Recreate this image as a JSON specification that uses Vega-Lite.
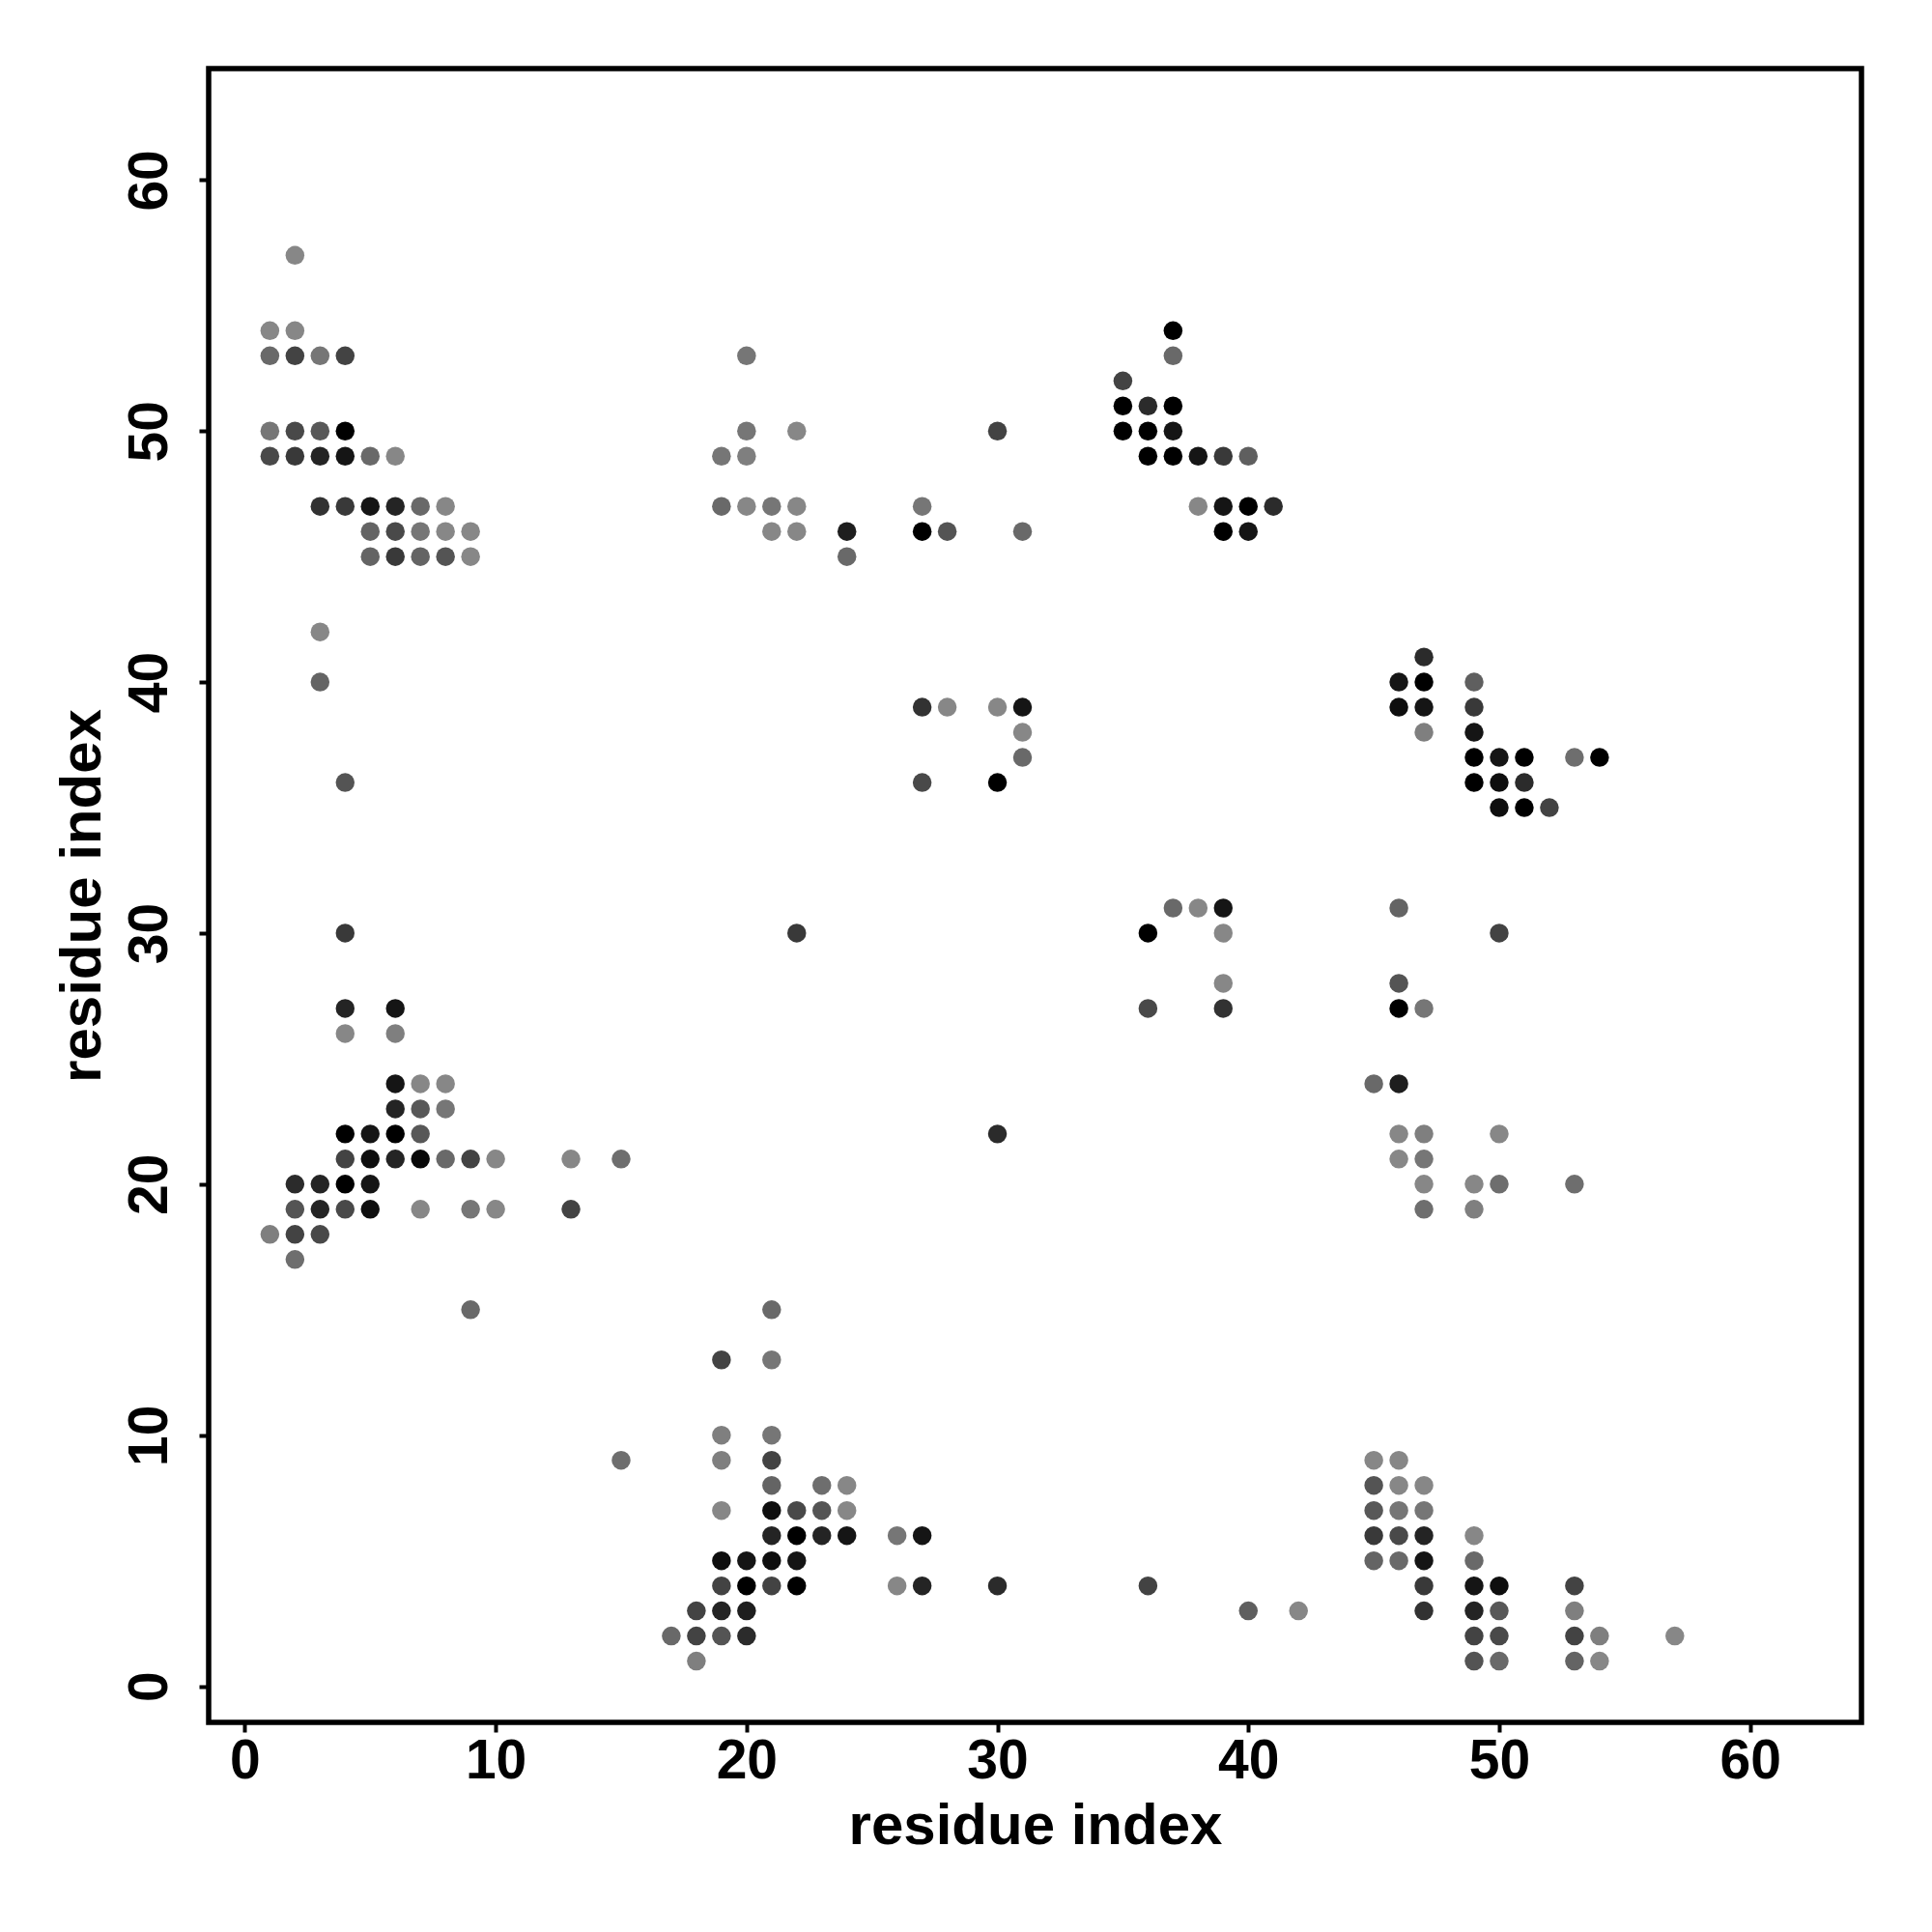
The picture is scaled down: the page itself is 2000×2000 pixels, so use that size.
{
  "$schema": "https://vega.github.io/schema/vega-lite/v6.json",
  "autosize": "none",
  "width": 1711,
  "height": 1712,
  "padding": {"left": 216, "top": 71, "right": 73, "bottom": 217},
  "background": "white",
  "view": {"stroke": "black", "strokeWidth": 5.5, "fill": "white"},
  "config": {
    "font": "Liberation Sans",
    "axis": {
      "domain": false, "grid": false,
      "tickColor": "black", "tickWidth": 4, "tickSize": 10,
      "labelFont": "Liberation Sans", "labelFontWeight": "bold", "labelFontSize": 57, "labelColor": "black",
      "titleFont": "Liberation Sans", "titleFontWeight": "bold", "titleFontSize": 60, "titleColor": "black",
      "labelOverlap": false, "labelFlush": false
    }
  },
  "data": {"values": [
    {"i":2,"j":57,"s":0.03},{"i":1,"j":54,"s":0.03},{"i":2,"j":54,"s":0.03},
    {"i":1,"j":53,"s":0.24},{"i":2,"j":53,"s":0.51},{"i":3,"j":53,"s":0.15},{"i":4,"j":53,"s":0.51},
    {"i":1,"j":50,"s":0.15},{"i":2,"j":50,"s":0.47},{"i":3,"j":50,"s":0.36},{"i":4,"j":50,"s":1},
    {"i":1,"j":49,"s":0.47},{"i":2,"j":49,"s":0.59},{"i":3,"j":49,"s":0.76},{"i":4,"j":49,"s":0.88},{"i":5,"j":49,"s":0.24},{"i":6,"j":49,"s":0.03},
    {"i":3,"j":47,"s":0.64},{"i":4,"j":47,"s":0.59},{"i":5,"j":47,"s":0.88},{"i":6,"j":47,"s":0.76},{"i":7,"j":47,"s":0.24},{"i":8,"j":47,"s":0.03},
    {"i":5,"j":46,"s":0.27},{"i":6,"j":46,"s":0.47},{"i":7,"j":46,"s":0.15},{"i":8,"j":46,"s":0.03},{"i":9,"j":46,"s":0.03},
    {"i":5,"j":45,"s":0.27},{"i":6,"j":45,"s":0.59},{"i":7,"j":45,"s":0.27},{"i":8,"j":45,"s":0.39},{"i":9,"j":45,"s":0.03},
    {"i":3,"j":42,"s":0.03},{"i":3,"j":40,"s":0.27},{"i":4,"j":36,"s":0.39},{"i":4,"j":30,"s":0.59},
    {"i":4,"j":27,"s":0.76},{"i":6,"j":27,"s":0.88},
    {"i":4,"j":26,"s":0.03},{"i":6,"j":26,"s":0.09},
    {"i":6,"j":24,"s":0.88},{"i":7,"j":24,"s":0.03},{"i":8,"j":24,"s":0.03},
    {"i":6,"j":23,"s":0.76},{"i":7,"j":23,"s":0.36},{"i":8,"j":23,"s":0.15},
    {"i":4,"j":22,"s":1},{"i":5,"j":22,"s":0.88},{"i":6,"j":22,"s":1},{"i":7,"j":22,"s":0.36},
    {"i":4,"j":21,"s":0.51},{"i":5,"j":21,"s":0.93},{"i":6,"j":21,"s":0.76},{"i":7,"j":21,"s":0.96},{"i":8,"j":21,"s":0.24},{"i":9,"j":21,"s":0.51},{"i":10,"j":21,"s":0.03},{"i":13,"j":21,"s":0.03},{"i":15,"j":21,"s":0.2},
    {"i":2,"j":20,"s":0.7},{"i":3,"j":20,"s":0.76},{"i":4,"j":20,"s":1},{"i":5,"j":20,"s":0.88},
    {"i":2,"j":19,"s":0.39},{"i":3,"j":19,"s":0.76},{"i":4,"j":19,"s":0.47},{"i":5,"j":19,"s":0.93},{"i":7,"j":19,"s":0.03},{"i":9,"j":19,"s":0.15},{"i":10,"j":19,"s":0.03},{"i":13,"j":19,"s":0.51},
    {"i":1,"j":18,"s":0.09},{"i":2,"j":18,"s":0.51},{"i":3,"j":18,"s":0.47},
    {"i":2,"j":17,"s":0.2},{"i":9,"j":15,"s":0.24},
    {"i":20,"j":53,"s":0.15},
    {"i":20,"j":50,"s":0.15},{"i":22,"j":50,"s":0.03},{"i":30,"j":50,"s":0.51},
    {"i":19,"j":49,"s":0.15},{"i":20,"j":49,"s":0.09},
    {"i":19,"j":47,"s":0.24},{"i":20,"j":47,"s":0.03},{"i":21,"j":47,"s":0.15},{"i":22,"j":47,"s":0.03},{"i":27,"j":47,"s":0.15},
    {"i":21,"j":46,"s":0.03},{"i":22,"j":46,"s":0.03},{"i":24,"j":46,"s":0.81},{"i":27,"j":46,"s":1},{"i":28,"j":46,"s":0.39},{"i":31,"j":46,"s":0.24},
    {"i":24,"j":45,"s":0.24},
    {"i":37,"j":54,"s":1},{"i":37,"j":53,"s":0.24},{"i":35,"j":52,"s":0.51},
    {"i":35,"j":51,"s":1},{"i":36,"j":51,"s":0.7},{"i":37,"j":51,"s":1},
    {"i":35,"j":50,"s":1},{"i":36,"j":50,"s":1},{"i":37,"j":50,"s":0.88},
    {"i":36,"j":49,"s":1},{"i":37,"j":49,"s":1},{"i":38,"j":49,"s":0.88},{"i":39,"j":49,"s":0.59},{"i":40,"j":49,"s":0.31},
    {"i":38,"j":47,"s":0.03},{"i":39,"j":47,"s":0.88},{"i":40,"j":47,"s":1},{"i":41,"j":47,"s":0.7},
    {"i":39,"j":46,"s":1},{"i":40,"j":46,"s":0.88},
    {"i":27,"j":39,"s":0.64},{"i":28,"j":39,"s":0.03},{"i":30,"j":39,"s":0.03},{"i":31,"j":39,"s":0.88},{"i":31,"j":38,"s":0.03},{"i":31,"j":37,"s":0.24},{"i":27,"j":36,"s":0.47},{"i":30,"j":36,"s":1},
    {"i":22,"j":30,"s":0.59},
    {"i":37,"j":31,"s":0.24},{"i":38,"j":31,"s":0.03},{"i":39,"j":31,"s":0.88},{"i":36,"j":30,"s":1},{"i":39,"j":30,"s":0.03},{"i":39,"j":28,"s":0.03},{"i":36,"j":27,"s":0.47},{"i":39,"j":27,"s":0.64},
    {"i":30,"j":22,"s":0.7},
    {"i":47,"j":41,"s":0.7},{"i":46,"j":40,"s":0.88},{"i":47,"j":40,"s":1},{"i":49,"j":40,"s":0.31},
    {"i":46,"j":39,"s":0.93},{"i":47,"j":39,"s":0.88},{"i":49,"j":39,"s":0.59},
    {"i":47,"j":38,"s":0.09},{"i":49,"j":38,"s":0.88},
    {"i":49,"j":37,"s":1},{"i":50,"j":37,"s":0.88},{"i":51,"j":37,"s":1},{"i":53,"j":37,"s":0.2},{"i":54,"j":37,"s":1},
    {"i":49,"j":36,"s":1},{"i":50,"j":36,"s":0.93},{"i":51,"j":36,"s":0.7},
    {"i":50,"j":35,"s":0.93},{"i":51,"j":35,"s":1},{"i":52,"j":35,"s":0.51},
    {"i":46,"j":31,"s":0.27},{"i":50,"j":30,"s":0.51},{"i":46,"j":28,"s":0.39},{"i":46,"j":27,"s":1},{"i":47,"j":27,"s":0.15},
    {"i":45,"j":24,"s":0.24},{"i":46,"j":24,"s":0.81},
    {"i":46,"j":22,"s":0.03},{"i":47,"j":22,"s":0.09},{"i":50,"j":22,"s":0.03},
    {"i":46,"j":21,"s":0.03},{"i":47,"j":21,"s":0.15},
    {"i":47,"j":20,"s":0.03},{"i":49,"j":20,"s":0.03},{"i":50,"j":20,"s":0.2},{"i":53,"j":20,"s":0.2},
    {"i":47,"j":19,"s":0.2},{"i":49,"j":19,"s":0.09},
    {"i":21,"j":15,"s":0.24},
    {"i":19,"j":13,"s":0.51},{"i":21,"j":13,"s":0.15},
    {"i":19,"j":10,"s":0.09},{"i":21,"j":10,"s":0.15},
    {"i":19,"j":9,"s":0.09},{"i":21,"j":9,"s":0.51},{"i":15,"j":9,"s":0.2},
    {"i":21,"j":8,"s":0.27},{"i":23,"j":8,"s":0.2},{"i":24,"j":8,"s":0.03},
    {"i":19,"j":7,"s":0.03},{"i":21,"j":7,"s":0.93},{"i":22,"j":7,"s":0.47},{"i":23,"j":7,"s":0.39},{"i":24,"j":7,"s":0.03},
    {"i":21,"j":6,"s":0.76},{"i":22,"j":6,"s":1},{"i":23,"j":6,"s":0.76},{"i":24,"j":6,"s":0.88},{"i":26,"j":6,"s":0.15},{"i":27,"j":6,"s":0.88},
    {"i":19,"j":5,"s":0.93},{"i":20,"j":5,"s":0.88},{"i":21,"j":5,"s":0.93},{"i":22,"j":5,"s":0.88},
    {"i":19,"j":4,"s":0.51},{"i":20,"j":4,"s":1},{"i":21,"j":4,"s":0.51},{"i":22,"j":4,"s":1},{"i":26,"j":4,"s":0.03},{"i":27,"j":4,"s":0.76},
    {"i":18,"j":3,"s":0.51},{"i":19,"j":3,"s":0.76},{"i":20,"j":3,"s":0.81},
    {"i":17,"j":2,"s":0.24},{"i":18,"j":2,"s":0.51},{"i":19,"j":2,"s":0.39},{"i":20,"j":2,"s":0.7},
    {"i":18,"j":1,"s":0.09},
    {"i":30,"j":4,"s":0.7},{"i":36,"j":4,"s":0.51},{"i":40,"j":3,"s":0.31},{"i":42,"j":3,"s":0.03},
    {"i":45,"j":9,"s":0.03},{"i":46,"j":9,"s":0.03},
    {"i":45,"j":8,"s":0.39},{"i":46,"j":8,"s":0.03},{"i":47,"j":8,"s":0.03},
    {"i":45,"j":7,"s":0.36},{"i":46,"j":7,"s":0.15},{"i":47,"j":7,"s":0.15},
    {"i":45,"j":6,"s":0.59},{"i":46,"j":6,"s":0.47},{"i":47,"j":6,"s":0.76},{"i":49,"j":6,"s":0.03},
    {"i":45,"j":5,"s":0.27},{"i":46,"j":5,"s":0.24},{"i":47,"j":5,"s":0.88},{"i":49,"j":5,"s":0.24},
    {"i":47,"j":4,"s":0.59},{"i":49,"j":4,"s":0.88},{"i":50,"j":4,"s":0.93},{"i":53,"j":4,"s":0.51},
    {"i":47,"j":3,"s":0.64},{"i":49,"j":3,"s":0.76},{"i":50,"j":3,"s":0.36},{"i":53,"j":3,"s":0.09},
    {"i":49,"j":2,"s":0.51},{"i":50,"j":2,"s":0.47},{"i":53,"j":2,"s":0.51},{"i":54,"j":2,"s":0.09},{"i":57,"j":2,"s":0.03},
    {"i":49,"j":1,"s":0.39},{"i":50,"j":1,"s":0.24},{"i":53,"j":1,"s":0.27},{"i":54,"j":1,"s":0.03}
  ]},
  "mark": {"type": "circle", "size": 380, "opacity": 1},
  "encoding": {
    "x": {"field": "i", "type": "quantitative",
      "scale": {"domain": [-1.44, 64.44], "nice": false, "zero": false},
      "axis": {"title": "residue index", "values": [0,10,20,30,40,50,60], "labelPadding": 2, "titlePadding": 10}},
    "y": {"field": "j", "type": "quantitative",
      "scale": {"domain": [-1.44, 64.44], "nice": false, "zero": false},
      "axis": {"title": "residue index", "values": [0,10,20,30,40,50,60], "labelAngle": -90, "labelAlign": "center", "labelBaseline": "bottom", "labelPadding": 22, "titlePadding": 10}},
    "color": {"field": "s", "type": "quantitative",
      "scale": {"domain": [0, 1], "range": ["#8c8c8c", "#000000"]}, "legend": null}
  }
}
